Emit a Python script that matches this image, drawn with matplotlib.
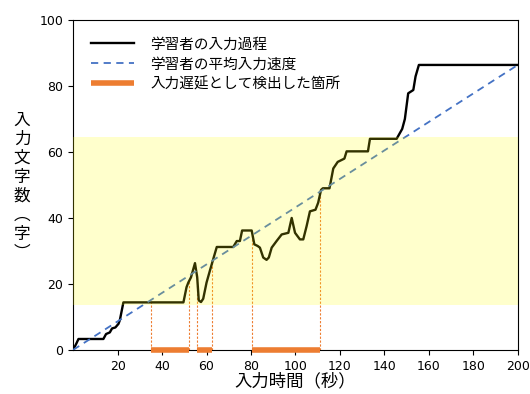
import numpy as np
import matplotlib.pyplot as plt

plt.rcParams['font.family'] = ['Noto Sans CJK JP', 'DejaVu Sans']

# learner's input process (time in s, characters typed)
t = [0, 1.5, 2.4, 13.6, 14.8, 16.5, 17.5, 19, 20.4, 21, 22.6, 49.6, 51, 51.8, 53, 54.8,
     55.8, 56.5, 57.5, 58.5, 60, 61.5, 63, 64.6, 72, 73.6, 75, 76, 80.3, 81.5, 83, 84,
     85.5, 87, 88, 89.3, 91.5, 93.8, 96.8, 98.3, 99.8, 102, 103.5, 105, 106.5, 109,
     110.2, 111.5, 112.3, 115.3, 117, 119, 122, 123, 132.6, 133.5, 145.5, 148, 149.2,
     150.7, 153, 154, 155.5, 200]
chars = [0, 2, 3.3, 3.3, 4.8, 5.3, 6.5, 6.8, 7.9, 9, 14.4, 14.4, 19, 20.4, 22, 26.3,
         22, 15, 14.5, 15.5, 20.4, 24, 27.5, 31.2, 31.2, 33, 33, 36.2, 36.2, 32, 31.5, 31,
         28, 27.3, 28, 31, 33, 35, 35.5, 40, 35.5, 33.5, 33.5, 37.5, 42, 42.5,
         44.6, 48.5, 49, 49, 55, 57, 58, 60.2, 60.2, 64, 64, 67, 70,
         77.8, 78.8, 82.9, 86.4, 86.4]

# average speed line
avg_t = [0, 200]
avg_c = [0, 86.4]

# detected delay intervals
delays = [(35.2, 52.1), (55.5, 62.6), (80.6, 111.0)]

band = (13.5, 64.5)

xticks = [20, 40, 60, 80, 100, 120, 140, 160, 180, 200]
yticks = [0, 20, 40, 60, 80, 100]

fig = plt.figure(figsize=(5.30, 3.94), dpi=100)
ax = fig.add_axes([0.138, 0.112, 0.839, 0.837])

ax.plot(t, chars, color='black', lw=1.7, label='学習者の入力過程', zorder=3)
ax.plot(avg_t, avg_c, color='#4472c4', lw=1.3, ls=(0, (4, 3)), label='学習者の平均入力速度', zorder=3)

for i, (a, b) in enumerate(delays):
    for xv in (a, b):
        top = np.interp(xv, t, chars)
        ax.plot([xv, xv], [0, top], color='#ed7d31', lw=0.8, ls=(0, (2, 1.5)), zorder=2)
    ax.plot([a, b], [0, 0], color='#ed7d31', lw=4, solid_capstyle='butt', clip_on=False,
            zorder=5, label='入力遅延として検出した箇所' if i == 0 else None)

ax.axhspan(band[0], band[1], color='yellow', alpha=0.2, lw=0, zorder=4)

ax.set_xlim(0, 200)
ax.set_ylim(0, 100)
ax.set_xticks(xticks)
ax.set_yticks(yticks)
ax.tick_params(labelsize=9)
for lab in ax.get_xticklabels() + ax.get_yticklabels():
    lab.set_family('DejaVu Sans')

ax.set_xlabel('入力時間（秒）', fontsize=12.5, labelpad=0)

ylab = '入力文字数︵字︶'
for k, ch in enumerate(ylab):
    fig.text(22 / 530, 1 - (120 + k * 19) / 394, ch, fontsize=12,
             ha='center', va='center')

ax.legend(loc='upper left', frameon=False, fontsize=10.5, handlelength=3.0,
          handletextpad=1.1, labelspacing=0.4, borderaxespad=0.7,
          borderpad=0.5)

fig.savefig('out.png', dpi=100)
